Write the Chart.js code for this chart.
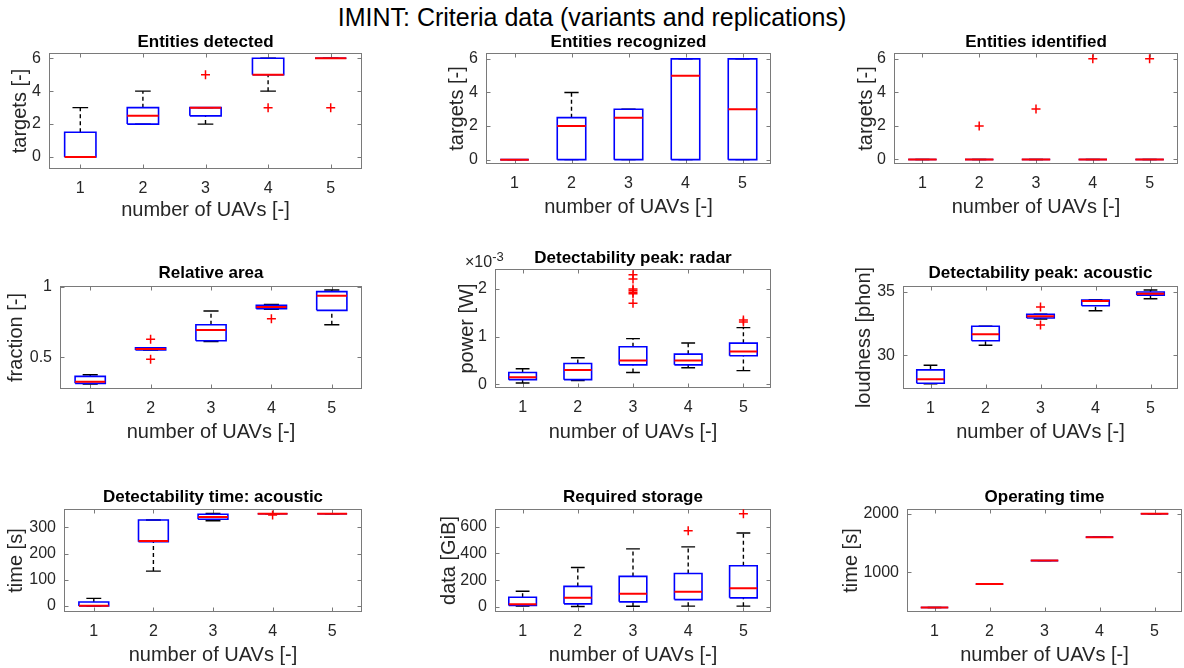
<!DOCTYPE html>
<html>
<head>
<meta charset="utf-8">
<title>IMINT: Criteria data</title>
<script src="https://cdn.jsdelivr.net/npm/chart.js@4.4.1/dist/chart.umd.min.js"></script>
<style>
    body { margin: 0; background: #fff; width: 1184px; height: 668px; position: relative; overflow: hidden;
           font-family: 'Liberation Sans', Arial, sans-serif; }
    #mainTitle { position: absolute; left: 0; top: 2px; width: 1184px; text-align: center;
                 font-size: 25px; line-height: 30px; color: #000; }
    canvas { position: absolute; }
</style>
</head>
<body>
<div id="mainTitle">IMINT: Criteria data (variants and replications)</div>

<script>
// number of UAVs (x categories)
const uavCounts = [1, 2, 3, 4, 5];

// box stats per UAV count: [lower whisker, q1, median, q3, upper whisker]
const detectedStats = [[0, 0, 0, 1.5, 3], [2, 2, 2.5, 3, 4], [2, 2.5, 3, 3, 3], [4, 5, 5, 6, 6], [6, 6, 6, 6, 6]];
const detectedOutliers = [[3, 5], [4, 3], [5, 3]];
const detectedTicks = [0, 2, 4, 6];

const recognizedStats = [[0, 0, 0, 0, 0], [0, 0, 2, 2.5, 4], [0, 0, 2.5, 3, 3], [0, 0, 5, 6, 6], [0, 0, 3, 6, 6]];
const recognizedOutliers = [];
const recognizedTicks = [0, 2, 4, 6];

const identifiedStats = [[0, 0, 0, 0, 0], [0, 0, 0, 0, 0], [0, 0, 0, 0, 0], [0, 0, 0, 0, 0], [0, 0, 0, 0, 0]];
const identifiedOutliers = [[2, 2], [3, 3], [4, 6], [5, 6]];
const identifiedTicks = [0, 2, 4, 6];

const areaStats = [[0.31, 0.315, 0.327, 0.365, 0.376], [0.552, 0.552, 0.559, 0.568, 0.568], [0.612, 0.618, 0.694, 0.732, 0.829],
                   [0.842, 0.846, 0.858, 0.870, 0.875], [0.732, 0.834, 0.938, 0.967, 0.979]];
const areaOutliers = [[2, 0.628], [2, 0.486], [4, 0.775]];
const areaTicks = [0.5, 1];

// radar power in units of 1e-3 W
const radarStats = [[0.03, 0.10, 0.15, 0.25, 0.33], [0.08, 0.10, 0.30, 0.44, 0.56], [0.25, 0.41, 0.50, 0.79, 0.96],
                    [0.35, 0.41, 0.50, 0.635, 0.87], [0.29, 0.60, 0.69, 0.865, 1.19]];
const radarOutliers = [[3, 2.30], [3, 2.21], [3, 2.0], [3, 1.97], [3, 1.93], [3, 1.90], [3, 1.70], [5, 1.35], [5, 1.31]];
const radarTicks = [0, 1, 2];

const loudnessStats = [[27.75, 27.79, 28.10, 28.84, 29.21], [30.79, 31.15, 31.66, 32.29, 32.29], [32.87, 32.95, 33.08, 33.24, 33.25],
                       [33.52, 33.92, 34.29, 34.37, 34.40], [34.47, 34.76, 34.87, 35.00, 35.16]];
const loudnessOutliers = [[3, 33.82], [3, 32.39]];
const loudnessTicks = [30, 35];

const detTimeStats = [[0, 0, 1, 15, 29], [133, 245, 248, 328, 328], [325, 331, 339, 350, 353], [352, 352, 352, 352, 352], [352, 352, 352, 352, 352]];
const detTimeOutliers = [[4, 347]];
const detTimeTicks = [0, 100, 200, 300];

const storageStats = [[5, 10, 20, 72, 116], [2, 22, 67, 153, 295], [4, 37, 97, 228, 434], [5, 54, 112, 250, 449], [5, 67, 139, 308, 553]];
const storageOutliers = [[4, 570], [5, 697]];
const storageTicks = [0, 200, 400, 600];

const opTimeStats = [[400, 400, 400, 400, 400], [800, 800, 800, 800, 800], [1200, 1200, 1200, 1200, 1200],
                     [1600, 1600, 1600, 1600, 1600], [2000, 2000, 2000, 2000, 2000]];
const opTimeOutliers = [];
const opTimeTicks = [1000, 2000];

const BOX_W = 0.25;   // half box width in x units
const CAP_W = 0.125;  // half whisker cap width
const FONT = "'Liberation Sans', Arial, sans-serif";
Chart.defaults.font.family = FONT;

// cell = canvas rect, axes = [left, top, right, bottom] of the plot box (page px)
const panels = [
    { title: 'Entities detected', ylabel: 'targets [-]', stats: detectedStats, outliers: detectedOutliers, ticks: detectedTicks,
      ymin: -0.73, ymax: 6.32, cell: [0, 30, 395, 202], axes: [49, 53, 362, 169], titleY: 42, xlabY: 210, ylabX: 20 },
    { title: 'Entities recognized', ylabel: 'targets [-]', stats: recognizedStats, outliers: recognizedOutliers, ticks: recognizedTicks,
      ymin: -0.26, ymax: 6.35, cell: [395, 30, 395, 202], axes: [486, 53, 771, 164], titleY: 42.5, xlabY: 207, ylabX: 457 },
    { title: 'Entities identified', ylabel: 'targets [-]', stats: identifiedStats, outliers: identifiedOutliers, ticks: identifiedTicks,
      ymin: -0.27, ymax: 6.34, cell: [790, 30, 394, 202], axes: [894, 53, 1182, 164], titleY: 42.5, xlabY: 207.5, ylabX: 866 },
    { title: 'Relative area', ylabel: 'fraction [-]', stats: areaStats, outliers: areaOutliers, ticks: areaTicks,
      ymin: 0.275, ymax: 1.007, cell: [0, 240, 395, 212], axes: [60, 286, 362, 389], titleY: 273, xlabY: 432, ylabX: 16 },
    { title: 'Detectability peak: radar', ylabel: 'power [W]', stats: radarStats, outliers: radarOutliers, ticks: radarTicks,
      ymin: -0.075, ymax: 2.42, cell: [395, 240, 395, 212], axes: [495, 269, 771, 388], titleY: 258, xlabY: 432, ylabX: 467, exponent: '-3' },
    { title: 'Detectability peak: acoustic', ylabel: 'loudness [phon]', stats: loudnessStats, outliers: loudnessOutliers, ticks: loudnessTicks,
      ymin: 27.33, ymax: 35.48, cell: [790, 240, 394, 212], axes: [903, 286, 1182, 389], titleY: 273, xlabY: 432, ylabX: 864 },
    { title: 'Detectability time: acoustic', ylabel: 'time [s]', stats: detTimeStats, outliers: detTimeOutliers, ticks: detTimeTicks,
      ymin: -23, ymax: 370, cell: [0, 470, 395, 198], axes: [64, 509, 362, 612], titleY: 497, xlabY: 655.5, ylabX: 16 },
    { title: 'Required storage', ylabel: 'data [GiB]', stats: storageStats, outliers: storageOutliers, ticks: storageTicks,
      ymin: -39, ymax: 733, cell: [395, 470, 395, 198], axes: [495, 509, 771, 612], titleY: 497, xlabY: 655, ylabX: 449 },
    { title: 'Operating time', ylabel: 'time [s]', stats: opTimeStats, outliers: opTimeOutliers, ticks: opTimeTicks,
      ymin: 324, ymax: 2080, cell: [790, 470, 394, 198], axes: [907, 509, 1182, 612], titleY: 497, xlabY: 655, ylabX: 851 }
];

// MATLAB-like box around the axes with inward ticks on all four sides
const framePlugin = {
    id: 'frame',
    beforeDatasetsDraw(chart) {
        const { ctx, chartArea: a, scales } = chart;
        const l = Math.round(a.left) + 0.5, r = Math.round(a.right) - 0.5;
        const t = Math.round(a.top) + 0.5, b = Math.round(a.bottom) - 0.5;
        ctx.save();
        ctx.strokeStyle = '#7a7a7a';
        ctx.lineWidth = 1;
        ctx.strokeRect(l, t, r - l, b - t);
        ctx.beginPath();
        scales.x.ticks.forEach(tk => {
            const px = Math.round(scales.x.getPixelForValue(tk.value)) + 0.5;
            ctx.moveTo(px, b); ctx.lineTo(px, b - 4);
            ctx.moveTo(px, t); ctx.lineTo(px, t + 4);
        });
        scales.y.ticks.forEach(tk => {
            const py = Math.round(scales.y.getPixelForValue(tk.value)) + 0.5;
            ctx.moveTo(l, py); ctx.lineTo(l + 4, py);
            ctx.moveTo(r, py); ctx.lineTo(r - 4, py);
        });
        ctx.stroke();
        ctx.restore();
    }
};

// "x10^-3" multiplier label above the y axis
const exponentPlugin = {
    id: 'exponent',
    afterDraw(chart) {
        const exp = chart.options.plugins.exponent && chart.options.plugins.exponent.text;
        if (!exp) return;
        const { ctx, chartArea: a } = chart;
        ctx.save();
        ctx.fillStyle = '#262626';
        ctx.textBaseline = 'alphabetic';
        ctx.font = '16px ' + FONT;
        const base = '\u00d710';
        const x0 = a.left - 30, y0 = a.top - 2;
        ctx.fillText(base, x0, y0);
        const w = ctx.measureText(base).width;
        ctx.font = '13px ' + FONT;
        ctx.fillText(exp, x0 + w, y0 - 6);
        ctx.restore();
    }
};

function buildDatasets(stats, outliers) {
    const boxes = [], medians = [], whiskers = [], caps = [];
    stats.forEach((s, i) => {
        const x = uavCounts[i];
        const [lo, q1, med, q3, hi] = s;
        boxes.push({ x: x - BOX_W, y: q1 }, { x: x + BOX_W, y: q1 }, { x: x + BOX_W, y: q3 },
                   { x: x - BOX_W, y: q3 }, { x: x - BOX_W, y: q1 }, { x: x, y: null });
        medians.push({ x: x - BOX_W, y: med }, { x: x + BOX_W, y: med }, { x: x, y: null });
        whiskers.push({ x: x, y: q3 }, { x: x, y: hi }, { x: x, y: null }, { x: x, y: lo }, { x: x, y: q1 }, { x: x, y: null });
        caps.push({ x: x - CAP_W, y: hi }, { x: x + CAP_W, y: hi }, { x: x, y: null },
                  { x: x - CAP_W, y: lo }, { x: x + CAP_W, y: lo }, { x: x, y: null });
    });
    const line = { type: 'line', pointRadius: 0, fill: false, spanGaps: false, tension: 0 };
    return [
        { ...line, data: outliers.map(o => ({ x: o[0], y: o[1] })), showLine: false, pointStyle: 'cross',
          pointRadius: 4.5, pointBorderColor: '#ff0000', pointBorderWidth: 1.5, order: 0 },
        { ...line, data: medians, borderColor: '#ff0000', borderWidth: 2, order: 1 },
        { ...line, data: boxes, borderColor: '#0000ff', borderWidth: 1.6, order: 2 },
        { ...line, data: caps, borderColor: '#000000', borderWidth: 1.4, order: 3 },
        { ...line, data: whiskers, borderColor: '#000000', borderWidth: 1.4, borderDash: [4, 3], order: 4 }
    ];
}

panels.forEach(p => {
    const [cx, cy, cw, ch] = p.cell;
    const [L, T, R, B] = p.axes;
    const canvas = document.createElement('canvas');
    canvas.width = cw; canvas.height = ch;
    canvas.style.left = cx + 'px'; canvas.style.top = cy + 'px';
    canvas.style.width = cw + 'px'; canvas.style.height = ch + 'px';
    document.body.appendChild(canvas);

    const titleLH = 17 * 1.2;
    new Chart(canvas.getContext('2d'), {
        type: 'line',
        data: { datasets: buildDatasets(p.stats, p.outliers) },
        options: {
            responsive: false,
            animation: false,
            events: [],
            layout: { padding: { left: 0, bottom: 0, right: cx + cw - R, top: p.titleY - titleLH / 2 - cy } },
            plugins: {
                legend: { display: false },
                tooltip: { enabled: false },
                title: { display: true, fullSize: false, text: p.title, color: '#000', font: { size: 17, weight: 'bold' },
                         padding: { top: 0, bottom: T - p.titleY - titleLH / 2 } },
                exponent: { text: p.exponent || '' }
            },
            scales: {
                x: {
                    type: 'linear', min: 0.5, max: 5.5,
                    afterBuildTicks: s => { s.ticks = uavCounts.map(v => ({ value: v })); },
                    afterFit: s => { s.height = cy + ch - B; },
                    grid: { display: false, drawTicks: false },
                    border: { display: false },
                    ticks: { color: '#262626', font: { size: 16 }, padding: 10, maxRotation: 0, callback: v => String(v) },
                    title: { display: true, text: 'number of UAVs [-]', color: '#262626', font: { size: 20 },
                             padding: { top: 0, bottom: cy + ch - p.xlabY - 12 } }
                },
                y: {
                    type: 'linear', min: p.ymin, max: p.ymax,
                    afterBuildTicks: s => { s.ticks = p.ticks.map(v => ({ value: v })); },
                    afterFit: s => { s.width = L - cx; },
                    grid: { display: false, drawTicks: false },
                    border: { display: false },
                    ticks: { color: '#262626', font: { size: 16 }, padding: 8, callback: v => String(v) },
                    title: { display: true, text: p.ylabel, color: '#262626', font: { size: 20 },
                             padding: { top: p.ylabX - cx - 12, bottom: 0 } }
                }
            }
        },
        plugins: [framePlugin, exponentPlugin]
    });
});
</script>
</body>
</html>
